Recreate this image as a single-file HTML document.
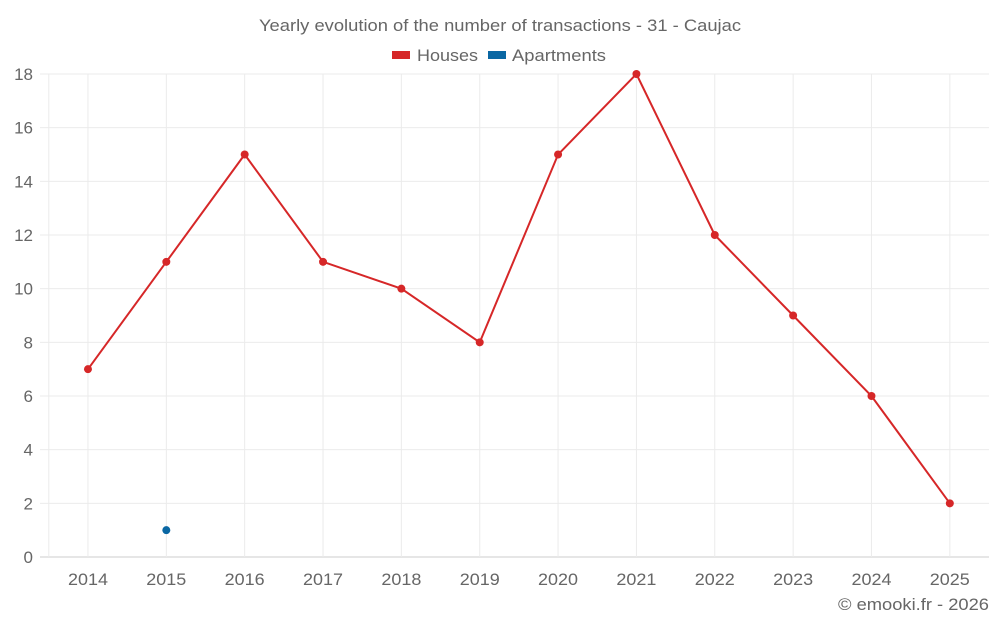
<!DOCTYPE html>
<html><head><meta charset="utf-8"><style>
body{margin:0;background:#fff;font-family:"Liberation Sans",sans-serif;}
svg text{font-family:"Liberation Sans",sans-serif;fill:#666;}
</style></head><body>
<svg id="c" width="1000" height="625">
<text x="259" y="31" font-size="17" textLength="482" lengthAdjust="spacingAndGlyphs">Yearly evolution of the number of transactions - 31 - Caujac</text>
<g>
<g><rect x="392" y="51" width="18" height="8" fill="#d62728"/><text x="417" y="61" font-size="17" textLength="61" lengthAdjust="spacingAndGlyphs">Houses</text></g>
<g><rect x="488" y="51" width="18" height="8" fill="#0a67a3"/><text x="512" y="61" font-size="17" textLength="94" lengthAdjust="spacingAndGlyphs">Apartments</text></g>
</g>
<g id="grid"></g><g id="marks"></g>
<text x="838" y="610" font-size="17" textLength="151" lengthAdjust="spacingAndGlyphs">© emooki.fr - 2026</text>
</svg>
<script>
const years=["2014","2015","2016","2017","2018","2019","2020","2021","2022","2023","2024","2025"];
const houses=[7,11,15,11,10,8,15,18,12,9,6,2];
const apartments=[null,1,null,null,null,null,null,null,null,null,null,null];
const yTicks=[0,2,4,6,8,10,12,14,16,18];
const NS="http://www.w3.org/2000/svg";
const x0=48.8,x1=989,y0=557,y1=74,yMax=18;
const step=(x1-x0)/years.length;
const X=i=>x0+step*(i+0.5);
const Y=v=>y0-(y0-y1)*v/yMax;
function mk(t,a,p){const e=document.createElementNS(NS,t);for(const k in a)e.setAttribute(k,a[k]);p.appendChild(e);return e;}
const g=document.getElementById('grid'),m=document.getElementById('marks');
yTicks.forEach(v=>{
 const l=mk('line',{x1:40,x2:x1,y1:Y(v),y2:Y(v),stroke:v===0?'#ccc':'#ebebeb'},g);
 
 
 const t=mk('text',{x:33,y:Y(v)+6,'text-anchor':'end','font-size':17},g);t.textContent=v;
 
 
});
const l0=mk('line',{x1:x0,x2:x0,y1:y1,y2:y0,stroke:'#ebebeb'},g);


years.forEach((yr,i)=>{
 const l=mk('line',{x1:X(i),x2:X(i),y1:y1,y2:y0,stroke:'#ebebeb'},g);
 
 
 const t=mk('text',{x:X(i),y:585,'text-anchor':'middle','font-size':17,textLength:40,lengthAdjust:'spacingAndGlyphs'},g);t.textContent=yr;
 
 
});
const pl=mk('polyline',{points:houses.map((v,i)=>X(i)+','+Y(v)).join(' '),fill:'none',stroke:'#d62728','stroke-width':2},m);


houses.forEach((v,i)=>{const c=mk('circle',{cx:X(i),cy:Y(v),r:4,fill:'#d62728'},m);
 
 });
apartments.forEach((v,i)=>{if(v==null)return;const c=mk('circle',{cx:X(i),cy:Y(v),r:4,fill:'#0a67a3'},m);
 
 });
</script>
</body></html>
